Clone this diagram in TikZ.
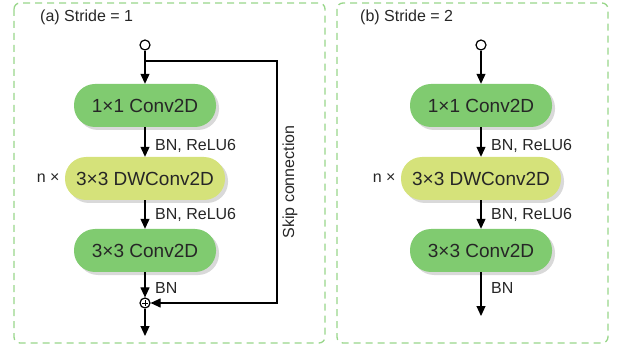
\documentclass[tikz,border=0pt]{standalone}
\usepackage{fontspec}
\setmainfont{Liberation Sans}
\usetikzlibrary{shapes.geometric, arrows.meta, positioning, calc, shadows}
\definecolor{convcolor}{RGB}{128, 203, 112}
\definecolor{dwcolor}{RGB}{213, 226, 122}
\definecolor{framecolor}{RGB}{152, 214, 138}
\definecolor{inkcolor}{RGB}{38, 38, 38}

\tikzset{
  block/.style={rectangle, rounded corners=21pt, minimum height=43pt, inner sep=0pt,
    text=inkcolor, font=\fontsize{19}{22}\selectfont,
    drop shadow={opacity=0.3, shadow xshift=3pt, shadow yshift=-3pt}},
  convblock/.style={block, fill=convcolor, minimum width=142pt},
  dwblock/.style={block, fill=dwcolor, minimum width=160pt},
  flow/.style={line width=1.1pt, -{Triangle[width=9pt,length=10pt]}},
  lbl/.style={font=\fontsize{16}{19}\selectfont, text=inkcolor, inner sep=0pt},
  port/.style={circle, draw, line width=1.2pt, minimum size=10pt, inner sep=0pt},
  panel/.style={draw=framecolor, line width=1.3pt, dash pattern=on 7pt off 5pt, rounded corners=6pt}
}

\begin{document}
\begin{tikzpicture}[x=1pt, y=-1pt]
\useasboundingbox (0,0) rectangle (618,347);
\draw[panel] (14,3) rectangle (325,343);
\draw[panel] (337,3) rectangle (608,343);
% both blocks share the same body
\foreach \p/\x/\t/\s in {a/0/40/1, b/336/360/2} {
    \node[lbl, anchor=west] (title\p) at (\t,17) {(\p) Stride = \s};
    \node[port] (in\p) at (145+\x,45) {};
    \node[convblock] (conv1\p) at (145+\x,105.5) {1×1 Conv2D};
    \node[dwblock] (dw\p) at (145+\x,178.5) {3×3 DWConv2D};
    \node[convblock] (conv3\p) at (145+\x,250.5) {3×3 Conv2D};
    \node[lbl, anchor=east] (rep\p) at ([xshift=-5pt]dw\p.west) {n ×};
    \draw[flow] (in\p) -- (conv1\p);
    \draw[flow] (conv1\p) -- (dw\p);
    \draw[flow] (dw\p) -- (conv3\p);
    \node[lbl, anchor=west] (bn1\p) at ([xshift=10pt, yshift=-19pt]conv1\p.south) {BN, ReLU6};
    \node[lbl, anchor=west] (bn2\p) at ([xshift=10pt, yshift=-15pt]dw\p.south) {BN, ReLU6};
    \node[lbl, anchor=west] (bn3\p) at ([xshift=10pt, yshift=-16pt]conv3\p.south) {BN};
}
% stride 1: residual add
\node[port] (sum) at (145,303) {};
\draw[line width=0.9pt] ([yshift=-3pt]sum.center) -- ([yshift=3pt]sum.center)
    ([xshift=-3pt]sum.center) -- ([xshift=3pt]sum.center);
\draw[flow] (conv3a) -- (sum);
\coordinate (outa) at (145,336);
\draw[flow] (sum) -- (outa);
\coordinate (split) at (145,61);
\draw[flow] (split) -| ($(sum)+(132,0)$) -- (sum);
\node[lbl, rotate=90] (skiplabel) at (290,182) {Skip connection};
% stride 2: no skip
\coordinate (outb) at (481,316);
\draw[flow] (conv3b) -- (outb);
\end{tikzpicture}
\end{document}
